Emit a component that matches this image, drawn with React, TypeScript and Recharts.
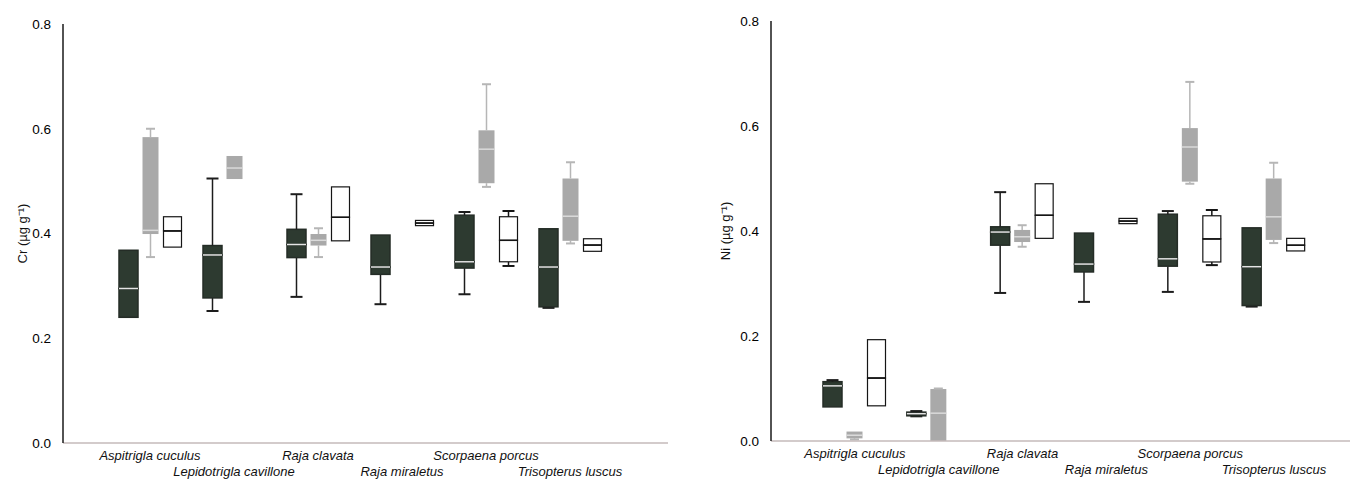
import { BarChart, Bar, XAxis, YAxis } from 'recharts';

const species = [
  'Aspitrigla cuculus',
  'Lepidotrigla cavillone',
  'Raja clavata',
  'Raja miraletus',
  'Scorpaena porcus',
  'Trisopterus luscus',
];

// each entry: [min, q1, median, q3, max], null = no box
type Box = number[] | null;

const crDark: Box[] = [
  [0.24, 0.24, 0.295, 0.368, 0.368],
  [0.252, 0.277, 0.359, 0.377, 0.505],
  [0.279, 0.354, 0.379, 0.408, 0.475],
  [0.265, 0.322, 0.336, 0.397, 0.397],
  [0.284, 0.334, 0.346, 0.435, 0.441],
  [0.258, 0.26, 0.336, 0.409, 0.409],
];
const crLight: Box[] = [
  [0.355, 0.399, 0.406, 0.584, 0.6],
  [0.504, 0.504, 0.525, 0.548, 0.548],
  [0.355, 0.377, 0.387, 0.399, 0.41],
  null,
  [0.489, 0.496, 0.561, 0.597, 0.685],
  [0.381, 0.386, 0.433, 0.505, 0.536],
];
const crWhite: Box[] = [
  [0.374, 0.374, 0.405, 0.432, 0.432],
  null,
  [0.386, 0.386, 0.431, 0.489, 0.489],
  [0.415, 0.415, 0.42, 0.425, 0.425],
  [0.338, 0.346, 0.387, 0.432, 0.443],
  [0.366, 0.366, 0.378, 0.39, 0.39],
];

const niDark: Box[] = [
  [0.065, 0.065, 0.105, 0.113, 0.116],
  [0.047, 0.048, 0.052, 0.055, 0.057],
  [0.282, 0.373, 0.398, 0.408, 0.474],
  [0.265, 0.322, 0.337, 0.396, 0.396],
  [0.284, 0.333, 0.347, 0.432, 0.438],
  [0.256, 0.258, 0.332, 0.406, 0.406],
];
const niLight: Box[] = [
  [0.003, 0.005, 0.011, 0.018, 0.018],
  [0, 0, 0.053, 0.099, 0.1],
  [0.37, 0.379, 0.389, 0.402, 0.411],
  null,
  [0.49, 0.494, 0.56, 0.596, 0.684],
  [0.377, 0.383, 0.427, 0.5, 0.53],
];
const niWhite: Box[] = [
  [0.067, 0.067, 0.12, 0.193, 0.193],
  null,
  [0.386, 0.386, 0.43, 0.49, 0.49],
  [0.414, 0.414, 0.419, 0.424, 0.424],
  [0.335, 0.341, 0.385, 0.429, 0.44],
  [0.362, 0.362, 0.373, 0.386, 0.386],
];

const yTicks = [0, 0.2, 0.4, 0.6, 0.8];

const kinds = ['d', 'l', 'w'] as const;

const look: Record<string, any> = {
  d: { fill: '#2d3a30', stroke: '#242c26', sw: 1.5, median: '#e4e4e4', whisker: '#1c1c1c', w: 19, cap: 12 },
  l: { fill: '#a9a9a9', stroke: 'none', sw: 0, median: '#dadada', whisker: '#b6b6b6', w: 16, cap: 9 },
  w: { fill: '#ffffff', stroke: '#151515', sw: 1.2, median: '#151515', whisker: '#151515', w: 18, cap: 12 },
};

// stacked segments: base, low whisker, lower box, upper box, high whisker
function buildRows(dark: Box[], light: Box[], white: Box[]) {
  return species.map((name, i) => {
    const row: Record<string, any> = { name };
    const sets: Record<string, Box> = { d: dark[i], l: light[i], w: white[i] };
    kinds.forEach((k) => {
      const b = sets[k];
      if (!b) return;
      row[k + '0'] = b[0];
      row[k + '1'] = b[1] - b[0];
      row[k + '2'] = b[2] - b[1];
      row[k + '3'] = b[3] - b[2];
      row[k + '4'] = b[4] - b[3];
    });
    return row;
  });
}

function partShape(kind: string, part: number) {
  const s = look[kind];
  return (props: any) => {
    const { x, y, width, height } = props;
    if (x == null || y == null || !(height > 0.3) || part === 0) return <g />;
    const cx = x + width / 2;
    if (part === 1 || part === 4) {
      const capY = part === 1 ? y + height : y;
      return (
        <g>
          <line x1={cx} x2={cx} y1={y} y2={y + height} stroke={s.whisker} strokeWidth={1.5} />
          <line x1={cx - s.cap / 2} x2={cx + s.cap / 2} y1={capY} y2={capY} stroke={s.whisker} strokeWidth={2} />
        </g>
      );
    }
    const bx = cx - s.w / 2;
    return (
      <g>
        <rect x={bx} y={y} width={s.w} height={height} fill={s.fill} stroke={s.stroke} strokeWidth={s.sw} />
        {part === 3 && (
          <line x1={bx} x2={bx + s.w} y1={y + height} y2={y + height} stroke={s.median} strokeWidth={1.5} />
        )}
      </g>
    );
  };
}

function SpeciesTick(props: any) {
  const { x, y, payload, index } = props;
  return (
    <text
      x={x}
      y={index % 2 === 0 ? y + 9 : y + 25}
      textAnchor="middle"
      fontStyle="italic"
      fontSize={13}
      fill="#111"
    >
      {payload.value}
    </text>
  );
}

interface PanelProps {
  rows: Record<string, any>[];
  label: string;
  width: number;
  top: number;
  xHeight: number;
  yWidth: number;
  right: number;
  pad: { left: number; right: number };
  labelOffset: number;
}

function Panel({ rows, label, width, top, xHeight, yWidth, right, pad, labelOffset }: PanelProps) {
  return (
    <BarChart
      width={width}
      height={481}
      data={rows}
      margin={{ top, right, bottom: 0, left: 0 }}
      barSize={19}
      barGap={3}
    >
      <XAxis
        dataKey="name"
        interval={0}
        height={xHeight}
        padding={pad}
        tickLine={false}
        axisLine={{ stroke: '#c4baba', strokeWidth: 1.5 }}
        tick={<SpeciesTick />}
      />
      <YAxis
        type="number"
        domain={[0, 0.8]}
        ticks={yTicks}
        width={yWidth}
        allowDataOverflow
        tickLine={false}
        tickMargin={6}
        tickFormatter={(v: number) => v.toFixed(1)}
        tick={{ fontSize: 13.5, fill: '#000' }}
        axisLine={{ stroke: '#1a1a1a', strokeWidth: 1.5 }}
        label={{
          value: label,
          angle: -90,
          position: 'insideLeft',
          offset: labelOffset,
          style: { textAnchor: 'middle', fontSize: 13, fill: '#111' },
        }}
      />
      {kinds.map((k) =>
        [0, 1, 2, 3, 4].map((p) => (
          <Bar
            key={k + p}
            dataKey={k + p}
            stackId={k}
            shape={partShape(k, p)}
            isAnimationActive={false}
          />
        ))
      )}
    </BarChart>
  );
}

export default function App() {
  const crRows = buildRows(crDark, crLight, crWhite);
  const niRows = buildRows(niDark, niLight, niWhite);
  return (
    <div
      style={{
        position: 'absolute',
        left: 0,
        top: 0,
        width: 1353,
        height: 481,
        background: '#fff',
        fontFamily: '"Liberation Sans", Arial, sans-serif',
      }}
    >
      <div style={{ position: 'absolute', left: 0, top: 0 }}>
        <Panel
          rows={crRows}
          label="Cr (µg g⁻¹)"
          width={680}
          top={24}
          xHeight={38}
          yWidth={63}
          right={12}
          pad={{ left: 45, right: 56 }}
          labelOffset={22}
        />
      </div>
      <div style={{ position: 'absolute', left: 700, top: 0 }}>
        <Panel
          rows={niRows}
          label="Ni (µg g⁻¹)"
          width={653}
          top={21}
          xHeight={40}
          yWidth={71}
          right={3}
          pad={{ left: 42, right: 34 }}
          labelOffset={25}
        />
      </div>
    </div>
  );
}
